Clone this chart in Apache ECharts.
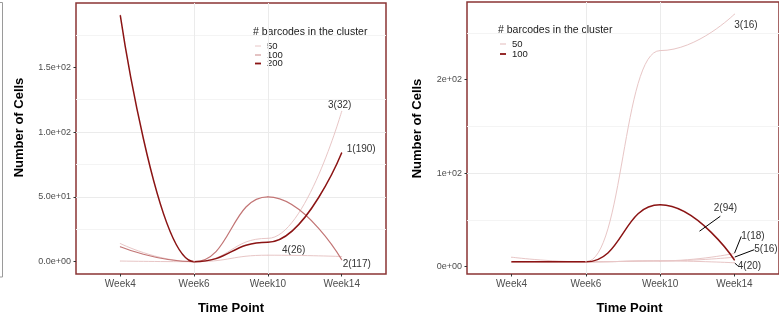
<!DOCTYPE html>
<html>
<head>
<meta charset="utf-8">
<script src="https://cdn.jsdelivr.net/npm/echarts@6/dist/echarts.min.js"></script>
<style>
  html, body { margin: 0; padding: 0; background: #fff; }
  #chart { width: 779px; height: 320px; }
</style>
</head>
<body>
<div id="chart"></div>
<script>
// Time points (shared by both panels)
const weeks = ['Week4', 'Week6', 'Week10', 'Week14'];

// Left panel: number of cells per cluster, label = cluster(barcodes)
const leftNames = ['4(26)', '3(32)', '2(117)', '1(190)'];
const left4 = [0.5, 0, 5, 4];
const left3 = [14, 0, 18, 116];
const left2 = [11.5, 0, 50, 1.5];
const left1 = [190, 0, 15, 84];
const leftTickValues = [0, 50, 100, 150];
const leftTickLabels = ['0.0e+00', '5.0e+01', '1.0e+02', '1.5e+02'];
const leftLegendValues = ['50', '100', '200'];

// Right panel
const rightNames = ['4(20)', '5(16)', '1(18)', '3(16)', '2(94)'];
const right4 = [5, 5, 6, 4];
const right5 = [5, 5, 6, 10];
const right1 = [5, 5, 6, 14];
const right3 = [10, 5, 231, 270];
const right2 = [5, 5, 66, 7];
const rightTickValues = [0, 100, 200];
const rightTickLabels = ['0e+00', '1e+02', '2e+02'];
const rightLegendValues = ['50', '100'];

const FONT = '"Liberation Sans", Arial, Helvetica, sans-serif';
const LIGHT = '#e8c6c6';
const MID = '#c27575';
const LEG100 = '#d6a3a3';
const DARK = '#8b1414';
const BORDER = '#8a3535';

const chart = echarts.init(document.getElementById('chart'));

function tickText(values, labels) {
  return function (v) {
    const i = values.indexOf(v);
    return i >= 0 ? labels[i] : '';
  };
}

function xAxisFor(gridIndex, namePad) {
  return {
    type: 'value', gridIndex: gridIndex,
    min: -0.6, max: 3.6, minInterval: 1, maxInterval: 1,
    axisLine: { show: false, onZero: false },
    axisTick: { show: true, length: 2.5, customValues: [0, 1, 2, 3], lineStyle: { color: '#333', width: 1 } },
    axisLabel: {
      customValues: [0, 1, 2, 3],
      formatter: function (v) { return weeks[v] || ''; },
      color: '#4d4d4d', fontSize: 10, fontFamily: FONT, margin: 5
    },
    splitLine: { show: true, showMinLine: false, showMaxLine: false, lineStyle: { color: '#ebebeb', width: 1 } },
    name: 'Time Point', nameLocation: 'middle', nameGap: 28,
    nameTextStyle: { fontSize: 13, fontWeight: 'bold', color: '#000', fontFamily: FONT, padding: namePad }
  };
}

function yAxisFor(gridIndex, min, max, step, values, labels, gap, namePad) {
  return {
    type: 'value', gridIndex: gridIndex,
    min: min, max: max, minInterval: step, maxInterval: step,
    axisLine: { show: false, onZero: false },
    axisTick: { show: true, length: 2.5, customValues: values, lineStyle: { color: '#333', width: 1 } },
    axisLabel: {
      customValues: values, formatter: tickText(values, labels),
      color: '#4d4d4d', fontSize: 9, fontFamily: FONT, margin: 5
    },
    splitLine: { show: true, showMinLine: false, showMaxLine: false, lineStyle: { color: '#ebebeb', width: 1 } },
    minorTick: { show: false, splitNumber: 2 },
    minorSplitLine: { show: true, lineStyle: { color: '#f4f4f4', width: 1 } },
    name: 'Number of Cells', nameLocation: 'middle', nameGap: gap,
    nameTextStyle: { fontSize: 13, fontWeight: 'bold', color: '#000', fontFamily: FONT, padding: namePad }
  };
}

const labelText = { fontSize: 10, color: '#333', fontFamily: FONT };

// Builds one smoothed curve; only the last time point carries the cluster label
function curve(name, values, color, width, gridIndex, labelOpt, extra) {
  const data = values.map(function (v, i) {
    const item = { value: [i, v] };
    if (i === values.length - 1) {
      item.label = Object.assign({ show: true, formatter: name, position: 'inside' }, labelText, labelOpt);
    }
    return item;
  });
  return Object.assign({
    type: 'line', name: name,
    xAxisIndex: gridIndex, yAxisIndex: gridIndex,
    data: data,
    smooth: 0.5, smoothMonotone: 'x',
    symbol: 'circle', symbolSize: 1, showSymbol: true,
    itemStyle: { color: color },
    lineStyle: { color: color, width: width },
    label: { show: false },
    emphasis: { disabled: true },
    silent: true
  }, extra || {});
}

const leader = { show: true, lineStyle: { color: '#000', width: 1 } };

const series = [
  curve(leftNames[0], left4, LIGHT, 1, 0, { offset: [-48, -6] }),
  curve(leftNames[1], left3, LIGHT, 1, 0, { offset: [-2, -6] }),
  curve(leftNames[2], left2, MID, 1.2, 0, { offset: [15, 5] }),
  curve(leftNames[3], left1, DARK, 1.5, 0, { offset: [19.5, -4] }),

  curve(rightNames[0], right4, LIGHT, 1, 1, {}, { labelLayout: { dx: 15, dy: 3 }, labelLine: leader }),
  curve(rightNames[1], right5, LIGHT, 1, 1, {}, { labelLayout: { dx: 31.5, dy: -7.5 }, labelLine: leader }),
  curve(rightNames[2], right1, LIGHT, 1, 1, {}, { labelLayout: { dx: 18.5, dy: -17 }, labelLine: leader }),
  curve(rightNames[3], right3, LIGHT, 1, 1, { offset: [11.5, 11] }),
  curve(rightNames[4], right2, DARK, 1.5, 1, { offset: [-9, -52] }, {
    markLine: {
      silent: true, symbol: ['none', 'none'], animation: false,
      label: { show: false },
      lineStyle: { color: '#000', width: 1, type: 'solid' },
      data: [[{ coord: [2.53, 37.8] }, { coord: [2.81, 53.8] }]]
    }
  })
];

function legendGraphics(x0, titleY, rowYs, values, colors, widths) {
  const els = [{
    type: 'text', x: x0, y: titleY,
    style: { text: '# barcodes in the cluster', font: '10.5px ' + FONT, fill: '#1a1a1a', verticalAlign: 'middle' }
  }];
  values.forEach(function (v, i) {
    els.push({
      type: 'line',
      shape: { x1: x0 + 2, y1: rowYs[i], x2: x0 + 8, y2: rowYs[i] },
      style: { stroke: colors[i], lineWidth: widths[i] }
    });
    els.push({
      type: 'text', x: x0 + 14, y: rowYs[i],
      style: { text: v, font: '9.5px ' + FONT, fill: '#1a1a1a', verticalAlign: 'middle' }
    });
  });
  return els;
}

const graphics = [
  // edge of the neighbouring panel frame
  { type: 'rect', shape: { x: -10, y: 2.5, width: 12.5, height: 274.5 }, style: { fill: null, stroke: '#9a9a9a', lineWidth: 1 } }
].concat(
  legendGraphics(253, 32, [46, 55, 63.5], leftLegendValues, [LIGHT, LEG100, DARK], [1, 1.3, 1.8]),
  legendGraphics(498, 30, [44, 54], rightLegendValues, [LIGHT, DARK], [1.2, 1.8])
);

chart.setOption({
  animation: false,
  backgroundColor: '#fff',
  grid: [
    { left: 76, top: 3, width: 310, height: 274, show: true, backgroundColor: '#fff', borderColor: BORDER, borderWidth: 1.5 },
    { left: 467, top: 2, width: 316, height: 273, show: true, backgroundColor: '#fff', borderColor: BORDER, borderWidth: 1.5 }
  ],
  xAxis: [xAxisFor(0, [0, 0, 0, 0]), xAxisFor(1, [0, 0, 0, 13])],
  yAxis: [
    yAxisFor(0, -9.5, 199.5, 50, leftTickValues, leftTickLabels, 50, [0, 0, 0, 22]),
    yAxisFor(1, -8, 283, 100, rightTickValues, rightTickLabels, 43, [0, 0, 0, 19])
  ],
  series: series,
  graphic: graphics
});
</script>
</body>
</html>
